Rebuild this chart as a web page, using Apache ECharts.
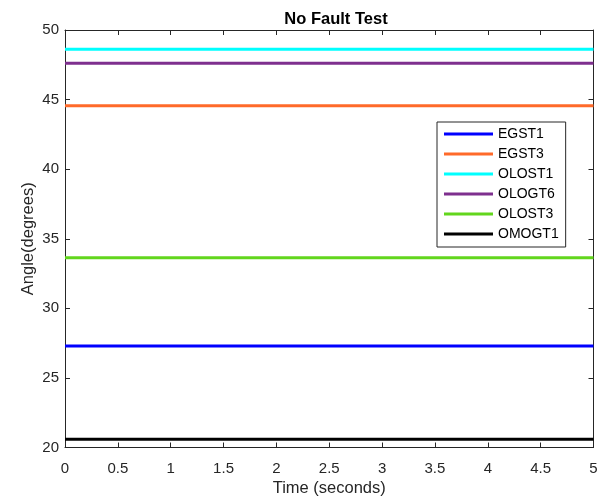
<!DOCTYPE html>
<html><head><meta charset="utf-8">
<script src="https://cdn.jsdelivr.net/npm/echarts@6/dist/echarts.min.js"></script>
<style>html,body{margin:0;padding:0;background:#fff}#c{width:600px;height:499px}</style>
</head><body><div id="c"></div>
<script>
const time = [0, 5];
const seriesNames = ['EGST1','EGST3','OLOST1','OLOGT6','OLOST3','OMOGT1'];
const EGST1 = [27.30, 27.30];
const EGST3 = [44.55, 44.55];
const OLOST1 = [48.61, 48.61];
const OLOGT6 = [47.61, 47.61];
const OLOST3 = [33.63, 33.63];
const OMOGT1 = [20.60, 20.60];
const values = [EGST1, EGST3, OLOST1, OLOGT6, OLOST3, OMOGT1];
const colors = ['#0000ff','#ff6a2a','#00ffff','#7e2f8e','#62d61c','#000000'];
const xTicks = ['0','0.5','1','1.5','2','2.5','3','3.5','4','4.5','5'];

const axisCol = '#262626';
const ff = 'Arial, "Liberation Sans", Helvetica, sans-serif';
const chart = echarts.init(document.getElementById('c'));
const common = {
  axisLine:{show:true,onZero:false,lineStyle:{color:axisCol,width:1}},
  axisTick:{show:true,inside:true,length:5,lineStyle:{color:axisCol}},
  splitLine:{show:false}
};
chart.setOption({
  animation:false,
  title:{text:'No Fault Test',left:331,top:6,textAlign:'center',
    textStyle:{fontFamily:ff,fontSize:16.5,fontWeight:'bold',color:'#000'}},
  grid:{left:65,right:6.5,top:30,bottom:51.5,containLabel:false,outerBoundsMode:'none'},
  legend:{orient:'vertical',left:437,top:122,data:seriesNames,
    itemWidth:49,itemHeight:3,itemGap:0,icon:'rect',
    backgroundColor:'#fff',borderColor:axisCol,borderWidth:1,padding:[2,7,3,7],
    textStyle:{fontFamily:ff,fontSize:14,color:'#000',lineHeight:20}},
  xAxis:[
    Object.assign({type:'value',min:0,max:5,interval:0.5,position:'bottom',
      name:'Time (seconds)',nameLocation:'middle',nameGap:32,nameMoveOverlap:false,
      nameTextStyle:{fontFamily:ff,fontSize:16.5,color:axisCol},
      axisLabel:{fontFamily:ff,fontSize:15,color:axisCol,margin:14,
        formatter:v=>xTicks[Math.round(v*2)]}},common),
    Object.assign({type:'value',min:0,max:5,interval:0.5,position:'top',axisLabel:{show:false}},common)
  ],
  yAxis:[
    Object.assign({type:'value',min:20,max:50,interval:5,position:'left',
      name:'Angle(degrees)',nameLocation:'middle',nameGap:28,nameMoveOverlap:false,
      nameTextStyle:{fontFamily:ff,fontSize:16.5,color:axisCol},
      axisLabel:{fontFamily:ff,fontSize:15,color:axisCol,margin:6}},common),
    Object.assign({type:'value',min:20,max:50,interval:5,position:'right',axisLabel:{show:false}},common)
  ],
  series: seriesNames.map((n,i)=>({
    name:n,type:'line',showSymbol:false,symbol:'none',
    data: time.map((t,j)=>[t, values[i][j]]),
    lineStyle:{color:colors[i],width:3},itemStyle:{color:colors[i]}
  }))
});
</script></body></html>
